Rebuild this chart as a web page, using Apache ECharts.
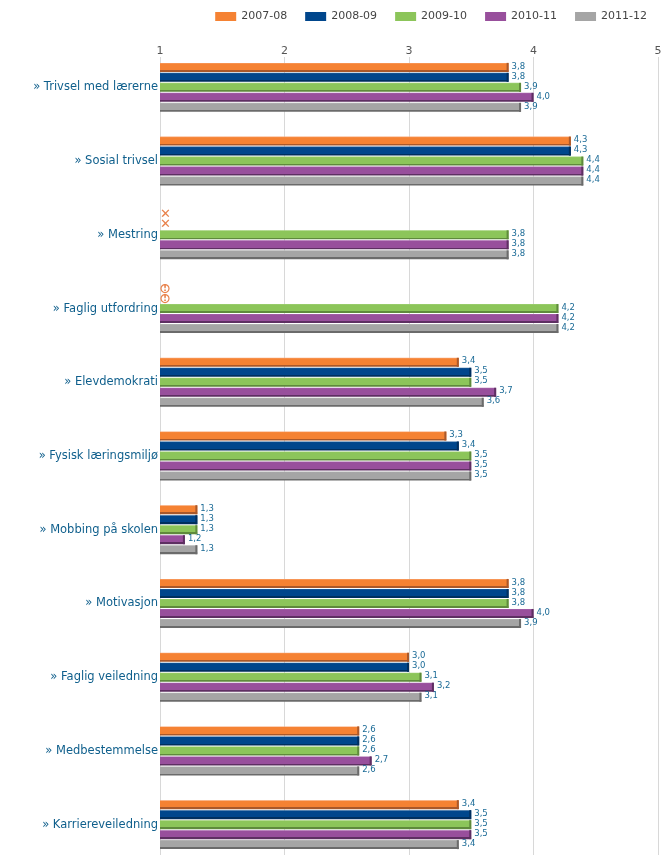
<!DOCTYPE html>
<html><head><meta charset="utf-8"><style>html,body{margin:0;padding:0;background:#fff}#c{width:666px;height:865px}</style>
<script src="https://cdn.jsdelivr.net/npm/echarts@6/dist/echarts.min.js"></script></head><body><div id="c"></div>
<script>
const categories=['Trivsel med lærerne','Sosial trivsel','Mestring','Faglig utfordring','Elevdemokrati','Fysisk læringsmiljø','Mobbing på skolen','Motivasjon','Faglig veiledning','Medbestemmelse','Karriereveiledning'];
const y0708=[3.8,4.3,'x','!',3.4,3.3,1.3,3.8,3.0,2.6,3.4];
const y0809=[3.8,4.3,'x','!',3.5,3.4,1.3,3.8,3.0,2.6,3.5];
const y0910=[3.9,4.4,3.8,4.2,3.5,3.5,1.3,3.8,3.1,2.6,3.5];
const y1011=[4.0,4.4,3.8,4.2,3.7,3.5,1.2,4.0,3.2,2.7,3.5];
const y1112=[3.9,4.4,3.8,4.2,3.6,3.5,1.3,3.9,3.1,2.6,3.4];
const names=['2007-08','2008-09','2009-10','2010-11','2011-12'];
const rows=[y0708,y0809,y0910,y1011,y1112];
const main=['#f58233','#00468c','#8cc55a','#984f9c','#a5a5a5'];
const light=['#f9a877','#2a6299','#a0d077','#a866ac','#b8b8b8'];
const dark=['#a9582a','#002f5f','#5f8a3c','#5e2f62','#6b6b6b'];
const mark='#e8814a';
const chart=echarts.init(document.getElementById('c'),null,{renderer:'canvas'});
function grad(i){return{type:'linear',x:0,y:0,x2:0,y2:1,colorStops:[
{offset:0,color:light[i]},{offset:.12,color:main[i]},{offset:.8,color:main[i]},{offset:.8,color:dark[i]},{offset:1,color:dark[i]}]}}
const series=rows.map((r,i)=>({
 name:names[i],type:'bar',xAxisIndex:0,yAxisIndex:0,barWidth:9,barGap:'11%',barCategoryGap:'32%',
 itemStyle:{color:grad(i)},
 emphasis:{disabled:true},
 label:{show:true,position:'right',distance:3,offset:[0,-1],fontFamily:'DejaVu Sans',fontSize:8.5,color:'#1a6a96',
  formatter:p=>Number(p.value).toFixed(1).replace('.',',')},
 data:r.map(v=>{
  if(v==='x')return{value:1,itemStyle:{color:'transparent'},label:{distance:0,offset:[0,0],fontSize:13,fontWeight:'bold',color:mark,fontFamily:'DejaVu Sans',formatter:'\u2715'}};
  if(v==='!')return{value:1,itemStyle:{color:'transparent'},label:{distance:1,offset:[0,0],color:mark,formatter:'{a|!}',rich:{a:{width:8,height:8,lineHeight:9,align:'center',borderWidth:1.2,borderColor:mark,borderRadius:5.5,color:mark,fontSize:9,fontWeight:'bold',fontFamily:'DejaVu Sans'}}}};
  return v;})
}));
// darker cap at the end of every bar, at the same value as the bar
rows.forEach((r,i)=>series.push({
 type:'custom',xAxisIndex:0,yAxisIndex:0,silent:true,z:3,
 data:r.map((v,j)=>[typeof v==='number'?v:null,j]),
 encode:{x:0,y:1},
 renderItem(params,api){
  const v=api.value(0);
  if(!v||isNaN(v))return null;
  const p=api.coord([v,api.value(1)]);
  return{type:'rect',shape:{x:p[0]-2,y:p[1]+(i-2)*10-4.5,width:2,height:9},style:{fill:dark[i]}};
 }
}));
chart.setOption({
 animation:false,
 legend:{data:names.map((n,i)=>({name:n,itemStyle:{color:main[i]}})),top:6,right:14,itemWidth:21,itemHeight:9,itemGap:18,icon:'rect',
  textStyle:{fontFamily:'DejaVu Sans',fontSize:11,color:'#444'}},
 grid:[{left:160,right:8,top:50.5,bottom:3.5},{left:160,right:8,top:57,bottom:10}],
 xAxis:[
  {gridIndex:0,type:'value',min:1,max:5,interval:1,show:false},
  {gridIndex:1,type:'value',position:'top',min:1,max:5,interval:1,
   axisLine:{show:false},axisTick:{show:false},
   axisLabel:{margin:0,fontFamily:'DejaVu Sans',fontSize:11,color:'#555',alignMaxLabel:'center',alignMinLabel:'center'},
   splitLine:{show:true,lineStyle:{color:'#d8d8d8',width:1}}}
 ],
 yAxis:[
  {gridIndex:0,type:'category',inverse:true,data:categories,axisLine:{show:false},axisTick:{show:false},
   axisLabel:{margin:2,padding:[3,0,0,0],fontFamily:'DejaVu Sans',fontSize:11.5,color:'#0f5f8c',formatter:v=>'» '+v},z:5},
  {gridIndex:1,type:'value',show:false,min:0,max:1}
 ],
 series
});
</script></body></html>
